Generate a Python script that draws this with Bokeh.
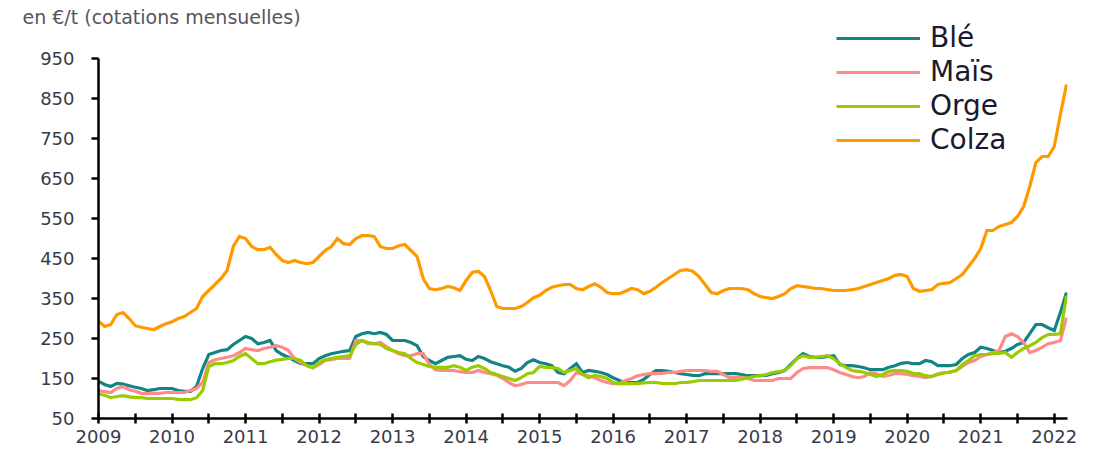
from bokeh.plotting import figure
from bokeh.models import FixedTicker, CustomJSTickFormatter, Legend, LegendItem, Range1d, Title, ColumnDataSource
from bokeh.embed import file_html
from bokeh.resources import INLINE

# Monthly quotations, Jan 2009 -> Mar 2022 (EUR/t)
START_YEAR = 2009
ble = [143, 135, 130, 138, 136, 132, 128, 125, 120, 122, 125, 125,
       125, 120, 118, 118, 130, 175, 210, 215, 220, 222, 235, 245,
       255, 250, 237, 240, 245, 220, 210, 203, 195, 187, 187, 187,
       200, 207, 212, 215, 218, 220, 255, 262, 265, 262, 265, 260,
       245, 245, 245, 240, 232, 205, 195, 187, 195, 203, 205, 207,
       198, 195, 205, 200, 192, 187, 182, 178, 168, 175, 190, 197,
       190, 187, 182, 165, 162, 175, 187, 165, 170, 168, 165, 160,
       152, 145, 140, 140, 140, 148, 160, 170, 170, 168, 165, 162,
       160, 158, 157, 162, 162, 162, 162, 162, 162, 160, 157, 157,
       157, 158, 162, 165, 170, 185, 200, 212, 205, 203, 203, 205,
       207, 185, 182, 182, 180, 177, 172, 172, 172, 178, 182, 188,
       190, 187, 187, 195, 192, 182, 182, 182, 185, 200, 210, 215,
       228, 225, 220, 215, 218, 225, 235, 240, 262, 285, 285, 277,
       270, 315, 365]
mais = [120, 117, 115, 125, 130, 122, 118, 113, 112, 113, 113, 115,
        115, 115, 115, 120, 125, 140, 190, 197, 200, 203, 207, 215,
        225, 222, 220, 225, 228, 232, 228, 220, 200, 190, 182, 177,
        185, 195, 197, 200, 200, 200, 245, 245, 237, 237, 240, 230,
        220, 212, 207, 207, 212, 212, 185, 172, 170, 170, 170, 167,
        165, 165, 170, 165, 162, 158, 150, 140, 132, 135, 140, 140,
        140, 140, 140, 140, 132, 145, 165, 160, 157, 152, 145, 140,
        137, 137, 145, 150, 157, 160, 162, 162, 163, 165, 165, 168,
        170, 170, 170, 170, 168, 168, 160, 152, 152, 152, 150, 145,
        145, 145, 145, 150, 150, 150, 165, 175, 177, 177, 177, 177,
        172, 165, 160, 155, 152, 155, 165, 162, 155, 158, 162, 162,
        160, 157, 155, 152, 155, 162, 165, 165, 170, 180, 190, 195,
        205, 210, 215, 220, 255, 262, 255, 240, 215, 220, 228, 237,
        240, 245, 302]
orge = [112, 108, 102, 105, 107, 104, 102, 102, 100, 100, 100, 100,
        100, 98, 97, 97, 102, 120, 180, 187, 187, 190, 195, 205,
        212, 200, 187, 187, 192, 196, 198, 200, 200, 195, 182, 177,
        190, 197, 200, 203, 205, 207, 235, 245, 240, 237, 235, 225,
        220, 215, 212, 200, 190, 185, 180, 178, 178, 178, 182, 178,
        170, 178, 182, 175, 165, 160, 155, 150, 145, 152, 162, 165,
        180, 178, 177, 175, 165, 170, 175, 160, 152, 158, 155, 150,
        140, 137, 137, 137, 137, 139, 140, 140, 138, 137, 137, 140,
        140, 142, 145, 145, 145, 145, 145, 145, 145, 148, 152, 155,
        157, 160, 165, 167, 170, 182, 200, 207, 203, 203, 205, 207,
        200, 187, 178, 170, 168, 165, 160, 155, 160, 168, 170, 170,
        168, 163, 162, 157, 155, 160, 163, 167, 170, 185, 195, 207,
        210, 210, 212, 213, 215, 203, 215, 225, 232, 240, 252, 260,
        260, 262, 357]
colza = [293, 280, 285, 310, 315, 300, 282, 278, 275, 272, 280, 287,
         292, 300, 305, 315, 325, 355, 370, 385, 400, 420, 480, 505,
         500, 480, 472, 472, 478, 460, 445, 440, 445, 440, 437, 440,
         455, 470, 480, 500, 487, 485, 500, 507, 507, 505, 480, 475,
         475, 482, 485, 470, 455, 400, 375, 372, 375, 380, 377, 370,
         395, 415, 418, 405, 370, 330, 325, 325, 325, 330, 340, 352,
         358, 370, 378, 382, 385, 385, 375, 372, 380, 387, 378, 365,
         362, 362, 368, 375, 372, 362, 368, 378, 390, 400, 410, 420,
         422, 418, 405, 385, 365, 362, 370, 375, 375, 375, 372, 362,
         355, 352, 350, 355, 362, 375, 382, 380, 378, 375, 375, 372,
         370, 370, 370, 372, 375, 380, 385, 390, 395, 400, 408, 410,
         405, 375, 368, 370, 372, 385, 388, 390, 400, 410, 430, 450,
         475, 520, 520, 530, 535, 540, 555, 580, 630, 690, 705, 705,
         730, 810, 885]

series_names = ["Blé", "Maïs", "Orge", "Colza"]
series_values = [ble, mais, orge, colza]
series_colors = ["#148383", "#FF8A8A", "#99CC00", "#FF9900"]

year_labels = list(range(2009, 2023))
y_ticks = [50, 150, 250, 350, 450, 550, 650, 750, 850, 950]
unit_text = "en €/t (cotations mensuelles)"

months = [START_YEAR + i / 12 for i in range(len(ble))]

# frame: left 98, right 1067, top 22, bottom 418 ; 950 must sit at y=58 -> extend range above
p = figure(width=1107, height=452, output_backend="svg", toolbar_location=None,
           x_range=Range1d(2009, 2022.18), y_range=Range1d(50, 1040),
           min_border_left=98, min_border_right=40, min_border_top=22, min_border_bottom=34)
p.outline_line_color = None
p.xgrid.visible = False
p.ygrid.visible = False
p.background_fill_color = "white"

items = []
for name, vals, col in zip(series_names, series_values, series_colors):
    src = ColumnDataSource(dict(x=months, y=vals))
    r = p.line("x", "y", source=src, line_color=col, line_width=3.2, line_join="miter")
    items.append(LegendItem(label=name, renderers=[r]))

# Axes
half_years = []
for y in year_labels:
    half_years.append(y)
    if y != year_labels[-1]:
        half_years.append(y + 0.5)
p.xaxis.ticker = FixedTicker(ticks=half_years)
p.xaxis.formatter = CustomJSTickFormatter(code="""
    return (Math.abs(tick - Math.round(tick)) < 1e-6) ? String(Math.round(tick)) : '';
""")
p.xaxis.minor_tick_line_color = None
p.xaxis.major_tick_in = 5
p.xaxis.major_tick_out = 5
p.xaxis.major_label_standoff = 6
p.xaxis.axis_line_width = 2.5
p.xaxis.major_tick_line_width = 2.5
p.xaxis.axis_line_color = "black"
p.xaxis.major_tick_line_color = "black"
p.xaxis.major_label_text_font = "DejaVu Sans"
p.xaxis.major_label_text_font_size = "18px"
p.xaxis.major_label_text_color = "#3a3a4a"

p.yaxis.ticker = FixedTicker(ticks=y_ticks)
p.yaxis.bounds = (50, 950)
p.yaxis.minor_tick_line_color = None
p.yaxis.major_tick_in = 0
p.yaxis.major_tick_out = 7
p.yaxis.major_label_standoff = 17
p.yaxis.axis_line_width = 2.5
p.yaxis.major_tick_line_width = 2.5
p.yaxis.axis_line_color = "black"
p.yaxis.major_tick_line_color = "black"
p.yaxis.major_label_text_font = "DejaVu Sans"
p.yaxis.major_label_text_font_size = "18px"
p.yaxis.major_label_text_color = "#3a3a4a"

legend = Legend(items=items, location=(738, 262), orientation="vertical",
                label_text_font="DejaVu Sans", label_text_font_size="28px",
                label_text_color="#1a1a2e", glyph_width=84, glyph_height=30,
                label_height=30, spacing=1, padding=2, margin=0,
                border_line_color=None, background_fill_alpha=0,
                label_standoff=10)
p.add_layout(legend, "center")

title = Title(text=unit_text, align="left", offset=-76, standoff=-10,
              vertical_align="bottom", text_font="DejaVu Sans",
              text_font_size="19px", text_font_style="normal", text_color="#555560")
p.add_layout(title, "above")

open("out.html", "w").write(file_html(p, INLINE))
